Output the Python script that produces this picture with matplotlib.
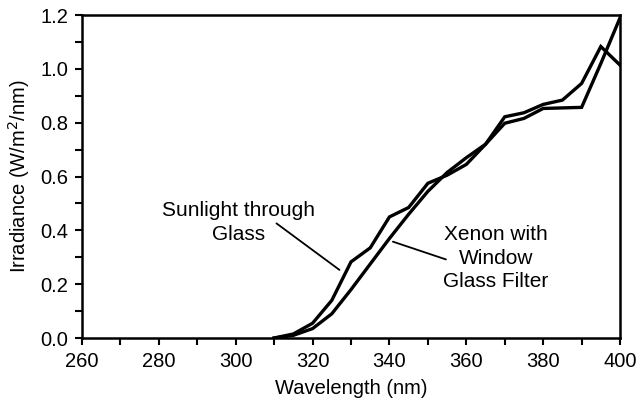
import matplotlib
matplotlib.use("Agg")
import matplotlib.pyplot as plt
from matplotlib.ticker import MultipleLocator

plt.rcParams['font.family'] = ['Liberation Sans', 'DejaVu Sans']

wavelength = [310, 315, 320, 325, 330, 335, 340, 345, 350, 355, 360, 365,
              370, 375, 380, 385, 390, 395, 400]
sunlight = [0.0, 0.015, 0.055, 0.14, 0.283, 0.335, 0.45, 0.485, 0.575, 0.605,
            0.645, 0.72, 0.822, 0.837, 0.868, 0.884, 0.946, 1.083, 1.014]
xenon = [0.0, 0.01, 0.035, 0.09, 0.18, 0.275, 0.37, 0.46, 0.545, 0.615,
         0.67, 0.72, 0.798, 0.816, 0.853, 0.855, 0.857, 1.02, 1.19]

fig = plt.figure(figsize=(6.37, 4.07), dpi=100)
ax = fig.add_axes([0.1287, 0.1695, 0.8447, 0.7935])

ax.plot(wavelength, sunlight, color='black', lw=2.4, solid_joinstyle='miter')
ax.plot(wavelength, xenon, color='black', lw=2.4, solid_joinstyle='miter')

ax.set_xlim(260, 400)
ax.set_ylim(0, 1.2)
ax.xaxis.set_major_locator(MultipleLocator(20))
ax.xaxis.set_minor_locator(MultipleLocator(10))
ax.yaxis.set_major_locator(MultipleLocator(0.2))
ax.yaxis.set_minor_locator(MultipleLocator(0.1))
ax.yaxis.set_major_formatter(plt.FormatStrFormatter('%.1f'))
ax.tick_params(which='both', direction='out', length=5, width=1.5, labelsize=14.5)
ax.tick_params(axis='x', pad=5)
ax.tick_params(axis='y', pad=5)
for s in ax.spines.values():
    s.set_linewidth(1.8)

ax.set_xlabel('Wavelength (nm)', fontsize=14.5, labelpad=6)
ax.set_ylabel('Irradiance (W/m$^2$/nm)', fontsize=14.5, labelpad=6)

# labels and their pointer lines
ax.text(300.8, 0.43, 'Sunlight through\nGlass', ha='center', va='center',
        fontsize=15, linespacing=1.3)
ax.annotate('', xy=(327.0, 0.253), xytext=(310.6, 0.426),
            arrowprops=dict(arrowstyle='-', color='black', lw=1.3, shrinkA=0, shrinkB=0))
ax.text(367.7, 0.297, 'Xenon with\nWindow\nGlass Filter', ha='center', va='center',
        fontsize=15, linespacing=1.3)
ax.annotate('', xy=(340.9, 0.358), xytext=(354.7, 0.292),
            arrowprops=dict(arrowstyle='-', color='black', lw=1.3, shrinkA=0, shrinkB=0))

fig.savefig('out.png', dpi=100)
